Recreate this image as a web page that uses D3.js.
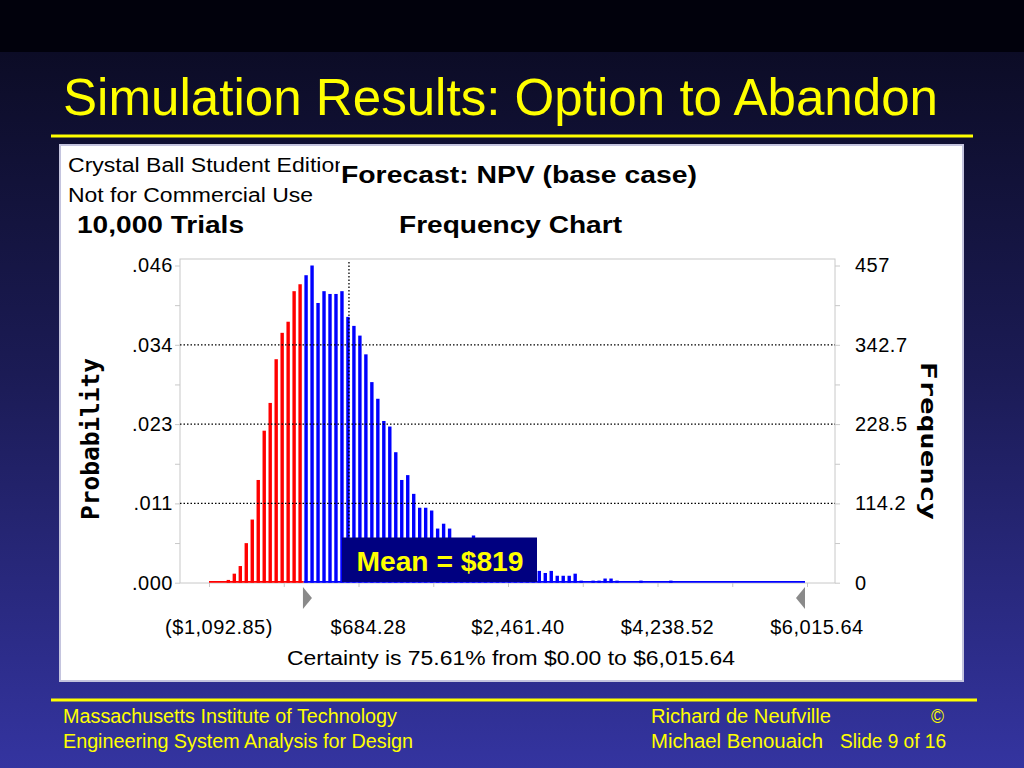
<!DOCTYPE html>
<html><head><meta charset="utf-8">
<script src="https://cdn.jsdelivr.net/npm/d3@7/dist/d3.min.js"></script>
<style>body{margin:0;overflow:hidden;background:#000}</style>
</head><body>
<svg id="c" width="1024" height="768"></svg>
<script>
// ---- data ----
const binCounts = [
  0, 0, 0, 4, 13, 24, 57, 91, 148, 219,
  259, 322, 360, 376, 420, 430, 443, 457, 403, 420,
  416, 416, 420, 383, 370, 356, 329, 289, 265, 233,
  225, 188, 148, 155, 128, 108, 108, 104, 78, 85,
  78, 62, 58, 52, 68, 50, 44, 40, 36, 32,
  29, 26, 23, 21, 19, 17, 14, 17, 10, 10,
  10, 13, 3, 0, 3, 3, 6, 6, 3, 0,
  0, 0, 3, 0, 0, 0, 0, 3, 0, 0,
  0, 0, 0, 0, 0, 0, 0, 0, 0, 0,
  0, 0, 0, 0, 0, 0, 0, 0, 0, 0
];
const xDomain = [-1092.85, 6015.64];
const xTickLabels = ["($1,092.85)", "$684.28", "$2,461.40", "$4,238.52", "$6,015.64"];
const probTickLabels = [".000", ".011", ".023", ".034", ".046"];
const freqTickLabels = ["0", "114.2", "228.5", "342.7", "457"];
const maxFreq = 457;
const certaintyRange = [0, 6015.64];
const meanLabel = "Mean = $819";
const meanMarkerValue = 571; // position of dotted line as drawn in the picture
const titleText = "Simulation Results: Option to Abandon";

// ---- drawing ----
const svg = d3.select("#c");
const defs = svg.append("defs");
const g1 = defs.append("linearGradient").attr("id","bg").attr("x1",0).attr("y1",0).attr("x2",0).attr("y2",1);
g1.append("stop").attr("offset","0").attr("stop-color","#0c0c26");
g1.append("stop").attr("offset","0.45").attr("stop-color","#1b1b55");
g1.append("stop").attr("offset","1").attr("stop-color","#3434a0");

svg.append("rect").attr("x",0).attr("y",52).attr("width",1024).attr("height",716).attr("fill","url(#bg)");
svg.append("rect").attr("x",0).attr("y",0).attr("width",1024).attr("height",52).attr("fill","#01010c");

const sans = "'Liberation Sans', Arial, Helvetica, sans-serif";
const narrow = "'Liberation Sans Narrow', 'Arial Narrow', 'Liberation Sans', sans-serif";

// title
svg.append("text").attr("x",63).attr("y",115).text(titleText)
  .attr("font-family",sans).attr("font-size",52).attr("fill","#ffff00")
  .attr("textLength",875).attr("lengthAdjust","spacingAndGlyphs");
svg.append("rect").attr("x",51).attr("y",134.5).attr("width",922).attr("height",3).attr("fill","#ffff00");

// panel
svg.append("rect").attr("x",60).attr("y",145).attr("width",903).attr("height",536)
  .attr("fill","#ffffff").attr("stroke","#c4c4de").attr("stroke-width",2);

// header texts
svg.append("text").attr("x",68).attr("y",172).text("Crystal Ball Student Edition")
  .attr("font-family",sans).attr("font-size",20).attr("fill","#000")
  .attr("textLength",279).attr("lengthAdjust","spacingAndGlyphs");
svg.append("rect").attr("x",340).attr("y",152).attr("width",370).attr("height",40).attr("fill","#fff");
svg.append("text").attr("x",68).attr("y",202).text("Not for Commercial Use")
  .attr("font-family",sans).attr("font-size",20).attr("fill","#000")
  .attr("textLength",245).attr("lengthAdjust","spacingAndGlyphs");
svg.append("text").attr("x",341).attr("y",183).text("Forecast: NPV (base case)")
  .attr("font-family",sans).attr("font-size",23).attr("font-weight","bold").attr("fill","#000")
  .attr("textLength",356).attr("lengthAdjust","spacingAndGlyphs");
svg.append("text").attr("x",77).attr("y",233).text("10,000 Trials")
  .attr("font-family",sans).attr("font-size",23).attr("font-weight","bold").attr("fill","#000")
  .attr("textLength",167).attr("lengthAdjust","spacingAndGlyphs");
svg.append("text").attr("x",399).attr("y",233).text("Frequency Chart")
  .attr("font-family",sans).attr("font-size",23).attr("font-weight","bold").attr("fill","#000")
  .attr("textLength",223).attr("lengthAdjust","spacingAndGlyphs");

// scales
const plot = {left:180, right:835, top:259, bottom:583};
const x = d3.scaleLinear().domain(xDomain).range([209, 807]);
const y = d3.scaleLinear().domain([0, maxFreq]).range([582.7, 265.5]);
const binW = (xDomain[1]-xDomain[0]) / binCounts.length;
const bins = binCounts.map((c,i)=>({i, c, x0: xDomain[0] + i*binW, x1: xDomain[0] + (i+1)*binW}));

// frame
svg.append("rect").attr("x",plot.left).attr("y",plot.top)
  .attr("width",plot.right-plot.left).attr("height",plot.bottom-plot.top)
  .attr("fill","none").attr("stroke","#c8c8c8").attr("stroke-width",1);

// bars
const colorOf = d => (d.x0 >= certaintyRange[0]) ? "#0000ff" : "#ff0000";
svg.append("g").selectAll("rect").data(bins.filter(d=>d.c>0)).join("rect")
  .attr("x", d => x(d.x0) - 0.3)
  .attr("width", 3.4)
  .attr("y", d => y(d.c))
  .attr("height", d => y(0) - y(d.c))
  .attr("fill", colorOf);
// zero line along the bins
const firstBlue = bins.find(d => colorOf(d) === "#0000ff");
svg.append("line").attr("x1", x(bins[0].x0)).attr("x2", x(firstBlue.x0) - 1)
  .attr("y1", y(0)-0.8).attr("y2", y(0)-0.8).attr("stroke","#ff0000").attr("stroke-width",1.8);
svg.append("line").attr("x1", x(firstBlue.x0) - 1).attr("x2", x(xDomain[1]) - 2)
  .attr("y1", y(0)-0.8).attr("y2", y(0)-0.8).attr("stroke","#0000ff").attr("stroke-width",1.8);

// gridlines (dotted, on top of bars)
const majorVals = [0,1,2,3,4].map(k => maxFreq*k/4);
const minorVals = [0,1,2,3].map(k => maxFreq*(k+0.5)/4);
svg.append("g").selectAll("line").data(majorVals.slice(1,4)).join("line")
  .attr("x1",plot.left).attr("x2",plot.right)
  .attr("y1",d=>y(d)).attr("y2",d=>y(d))
  .attr("stroke","#000").attr("stroke-width",1.3).attr("stroke-dasharray","1.5,2");

// y axes
const axL = svg.append("g").attr("transform",`translate(${plot.left},0)`)
  .call(d3.axisLeft(y).tickValues(majorVals).tickFormat((d,i)=>probTickLabels[i]).tickSize(5).tickPadding(2));
const axR = svg.append("g").attr("transform",`translate(${plot.right},0)`)
  .call(d3.axisRight(y).tickValues(majorVals).tickFormat((d,i)=>freqTickLabels[i]).tickSize(5).tickPadding(15));
[axL, axR].forEach(a => {
  a.select(".domain").remove();
  a.selectAll(".tick line").attr("stroke","#c8c8c8");
  a.selectAll("text").attr("font-family",sans).attr("font-size",20).attr("fill","#000")
    .attr("letter-spacing","0.5px");
});
svg.append("g").attr("transform",`translate(${plot.left},0)`)
  .call(d3.axisLeft(y).tickValues(minorVals).tickFormat("").tickSize(5))
  .call(a=>{a.select(".domain").remove(); a.selectAll("line").attr("stroke","#c8c8c8");});
svg.append("g").attr("transform",`translate(${plot.right},0)`)
  .call(d3.axisRight(y).tickValues(minorVals).tickFormat("").tickSize(5))
  .call(a=>{a.select(".domain").remove(); a.selectAll("line").attr("stroke","#c8c8c8");});

// x axis ticks
const xTickVals = d3.range(9).map(k => xDomain[0] + k*(xDomain[1]-xDomain[0])/8);
svg.append("g").attr("transform",`translate(0,${plot.bottom})`)
  .call(d3.axisBottom(x).tickValues(xTickVals).tickFormat("").tickSize(4))
  .call(a=>{a.select(".domain").remove(); a.selectAll("line").attr("stroke","#c8c8c8");});
const xLabelVals = d3.range(5).map(k => xDomain[0] + k*(xDomain[1]-xDomain[0])/4);
svg.append("g").selectAll("text").data(xLabelVals).join("text")
  .attr("x", d => x(d) + 10).attr("y", 634).attr("text-anchor","middle")
  .text((d,i)=>xTickLabels[i])
  .attr("font-family",sans).attr("font-size",20).attr("fill","#000").attr("letter-spacing","0.5px");

svg.append("text").attr("x",511).attr("y",665).attr("text-anchor","middle")
  .text(`Certainty is 75.61% from $${certaintyRange[0].toFixed(2)} to $6,015.64`)
  .attr("font-family",sans).attr("font-size",20).attr("fill","#000")
  .attr("textLength",448).attr("lengthAdjust","spacingAndGlyphs");

// certainty triangles
const tri = svg.append("g").attr("fill","#8a8a8a");
const tL = x(certaintyRange[0]) + 2, tR = x(certaintyRange[1]) - 2;
tri.append("path").attr("d",`M${tL},587 L${tL+9},598 L${tL},609 Z`);
tri.append("path").attr("d",`M${tR},587 L${tR-9},598 L${tR},609 Z`);

// mean marker
svg.append("line").attr("x1",x(meanMarkerValue)).attr("x2",x(meanMarkerValue))
  .attr("y1",262).attr("y2",538)
  .attr("stroke","#000").attr("stroke-width",1.3).attr("stroke-dasharray","1.5,2");
svg.append("rect").attr("x",342).attr("y",537.5).attr("width",195).attr("height",44.5).attr("fill","#000080");
svg.append("text").attr("x",440).attr("y",571).attr("text-anchor","middle").text(meanLabel)
  .attr("font-family",sans).attr("font-size",27).attr("font-weight","bold").attr("fill","#ffff00")
  .attr("textLength",167).attr("lengthAdjust","spacingAndGlyphs");

// axis titles
svg.append("text").attr("transform","translate(99,439) rotate(-90)").attr("text-anchor","middle")
  .text("Probability").attr("font-family","'DejaVu Sans Mono', monospace").attr("font-weight","bold")
  .attr("font-size",25).attr("fill","#000").attr("textLength",162).attr("lengthAdjust","spacingAndGlyphs");
svg.append("text").attr("transform","translate(921,441) rotate(90)").attr("text-anchor","middle")
  .text("Frequency").attr("font-family","'DejaVu Sans Mono', monospace").attr("font-weight","bold")
  .attr("font-size",22).attr("fill","#000").attr("textLength",158).attr("lengthAdjust","spacingAndGlyphs");

// footer
svg.append("rect").attr("x",51).attr("y",698.5).attr("width",926).attr("height",3).attr("fill","#ffff00");
const foot = [
  {t:"Massachusetts Institute of Technology", x:63, y:723, w:334},
  {t:"Engineering System Analysis for Design", x:63, y:748, w:350},
  {t:"Richard de Neufville", x:651, y:723, w:180},
  {t:"©", x:931, y:723, w:13},
  {t:"Michael Benouaich", x:651, y:748, w:172},
  {t:"Slide 9 of 16", x:840, y:748, w:106}
];
svg.append("g").selectAll("text").data(foot).join("text")
  .attr("x",d=>d.x).attr("y",d=>d.y).text(d=>d.t)
  .attr("font-family",narrow).attr("font-size",20).attr("fill","#ffff00")
  .attr("textLength",d=>d.w).attr("lengthAdjust","spacingAndGlyphs");
</script>
</body></html>
